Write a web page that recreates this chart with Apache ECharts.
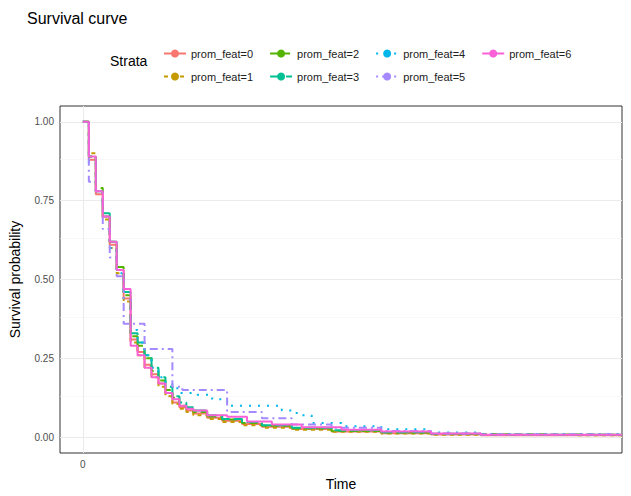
<!DOCTYPE html>
<html><head><meta charset="utf-8">
<script src="https://cdn.jsdelivr.net/npm/echarts@6/dist/echarts.min.js"></script>
<style>html,body{margin:0;background:#fff}#c{width:631px;height:496px}</style>
</head><body><div id="c"></div>
<script>
var strata = ['prom_feat=0','prom_feat=1','prom_feat=2','prom_feat=3','prom_feat=4','prom_feat=5','prom_feat=6'];
var colors = ['#F8766D','#C49A00','#53B400','#00C094','#00B6EB','#A58AFF','#FB61D7'];
var dashes = ['solid',[4,4],[8,4],[12,4],[2,7],[2,4,8,4],'solid'];
var yTicks = [0, 0.25, 0.5, 0.75, 1];
var xTicks = [0];
var s0 = [[0,1],[6,0.88],[13,0.77],[20,0.70],[27,0.61],[34,0.53],[41,0.44],[48,0.31],[55,0.27],[62,0.23],[69,0.20],[76,0.17],[83,0.14],[90,0.11],[97,0.095],[104,0.085],[111,0.075],[125,0.062],[140,0.052],[160,0.042],[180,0.033],[210,0.026],[250,0.018],[300,0.013],[350,0.009],[400,0.006],[542,0.004]];
var s1 = [[0,1],[6,0.90],[13,0.78],[20,0.69],[27,0.60],[34,0.52],[41,0.43],[48,0.30],[55,0.26],[62,0.22],[69,0.19],[76,0.16],[83,0.13],[90,0.105],[97,0.09],[104,0.08],[111,0.07],[125,0.058],[140,0.048],[160,0.038],[180,0.03],[210,0.024],[250,0.017],[300,0.012],[350,0.008],[400,0.006],[542,0.005]];
var s2 = [[0,1],[6,0.89],[13,0.79],[20,0.70],[27,0.62],[34,0.54],[41,0.45],[48,0.32],[55,0.29],[62,0.25],[69,0.21],[76,0.18],[83,0.15],[90,0.125],[97,0.10],[104,0.09],[111,0.08],[125,0.066],[140,0.056],[160,0.045],[180,0.036],[210,0.028],[250,0.02],[300,0.015],[350,0.01],[400,0.008],[542,0.006]];
var s3 = [[0,1],[6,0.89],[13,0.78],[20,0.71],[27,0.62],[34,0.53],[41,0.46],[48,0.33],[55,0.30],[62,0.26],[69,0.22],[76,0.19],[83,0.16],[90,0.13],[97,0.11],[104,0.095],[111,0.085],[125,0.07],[140,0.058],[160,0.048],[180,0.038],[210,0.03],[250,0.022],[300,0.016],[350,0.011],[400,0.008],[542,0.006]];
var s4 = [[0,1],[6,0.87],[13,0.78],[20,0.70],[27,0.60],[34,0.52],[41,0.44],[48,0.34],[55,0.30],[62,0.26],[69,0.22],[76,0.19],[83,0.17],[90,0.155],[97,0.14],[115,0.135],[130,0.12],[145,0.10],[200,0.085],[215,0.07],[230,0.045],[260,0.035],[300,0.025],[350,0.015],[400,0.01],[542,0.008]];
var s5 = [[0,1],[6,0.81],[13,0.78],[20,0.66],[27,0.57],[34,0.51],[41,0.36],[55,0.36],[62,0.28],[90,0.16],[100,0.15],[145,0.08],[180,0.06],[210,0.04],[250,0.03],[300,0.02],[350,0.012],[400,0.009],[542,0.008]];
var s6 = [[0,1],[6,0.89],[13,0.78],[20,0.70],[27,0.62],[34,0.53],[41,0.47],[48,0.29],[55,0.26],[62,0.22],[69,0.19],[76,0.17],[83,0.14],[90,0.12],[97,0.10],[104,0.09],[111,0.085],[125,0.07],[145,0.065],[165,0.05],[190,0.04],[220,0.032],[260,0.024],[300,0.018],[350,0.012],[400,0.008],[542,0.006]];
var curves = [s0,s1,s2,s3,s4,s5,s6];
var minor = [0.125,0.375,0.625,0.875];

var series = curves.map(function (d, i) {
  return {
    name: strata[i], type: 'line', step: 'end', data: d, showSymbol: false, symbol: 'none',
    lineStyle: { color: colors[i], width: 2, type: dashes[i] }, itemStyle: { color: colors[i] },
    z: 10 + i
  };
});
series.push({
  type: 'line', data: [], silent: true,
  markLine: {
    silent: true, symbol: 'none', label: { show: false }, animation: false,
    data: yTicks.map(function (v) { return { yAxis: v, lineStyle: { color: '#ebebeb', width: 1.1, type: 'solid' } }; })
      .concat(minor.map(function (v) { return { yAxis: v, lineStyle: { color: '#f3f3f3', width: 0.6, type: 'solid' } }; }))
      .concat(xTicks.map(function (v) { return { xAxis: v, lineStyle: { color: '#ebebeb', width: 1.1, type: 'solid' } }; }))
  }
});

var leg = { type: 'plain', orient: 'horizontal', itemWidth: 22, itemHeight: 10, itemGap: 16,
  textStyle: { fontSize: 11, color: '#222', fontFamily: 'Liberation Sans, Arial' } };

var chart = echarts.init(document.getElementById('c'), null, { renderer: 'svg' });
chart.setOption({
  animation: false,
  textStyle: { fontFamily: 'Liberation Sans, Arial' },
  title: { text: 'Survival curve', left: 22, top: 5, textStyle: { fontSize: 16, fontWeight: 'normal', color: '#000' } },
  graphic: [{ type: 'text', left: 110, top: 54, style: { text: 'Strata', fontSize: 14, fill: '#000', fontFamily: 'Liberation Sans, Arial' } }],
  legend: [
    Object.assign({ left: 158, top: 43, data: [strata[0], strata[2], strata[4], strata[6]] }, leg),
    Object.assign({ left: 158, top: 66, data: [strata[1], strata[3], strata[5]] }, leg)
  ],
  grid: { left: 53, right: 9, top: 106, bottom: 43, show: true, borderColor: '#333', borderWidth: 1, containLabel: false },
  xAxis: {
    type: 'value', min: -23, max: 542, name: 'Time', nameLocation: 'middle', nameGap: 24,
    nameTextStyle: { fontSize: 14, color: '#000' },
    axisLine: { show: false }, splitLine: { show: false },
    axisTick: { show: true, customValues: xTicks, length: 4, lineStyle: { color: '#333' } },
    axisLabel: { customValues: xTicks, color: '#4d4d4d', fontSize: 10, margin: 6 }
  },
  yAxis: {
    type: 'value', min: -0.05, max: 1.05, name: 'Survival probability', nameLocation: 'middle', nameGap: 38,
    nameTextStyle: { fontSize: 14, color: '#000' },
    axisLine: { show: false }, splitLine: { show: false },
    axisTick: { show: true, customValues: yTicks, length: 4, lineStyle: { color: '#333' } },
    axisLabel: { customValues: yTicks, color: '#4d4d4d', fontSize: 10, margin: 6, formatter: function (v) { return v.toFixed(2); } }
  },
  series: series
});
</script></body></html>
